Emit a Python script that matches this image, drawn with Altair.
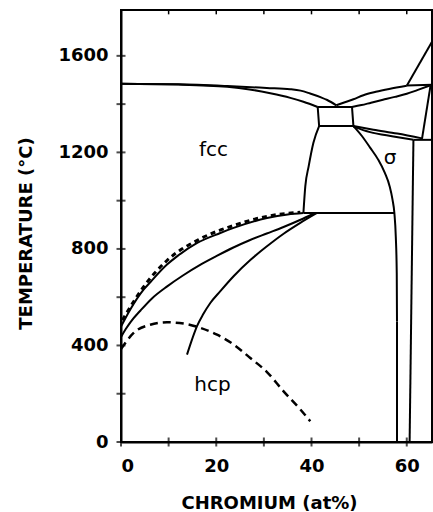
import altair as alt
import pandas as pd

# ---- smooth phase-boundary curves (x = at% Cr, T = deg C), x increasing ----
liq_left_x = [0, 12, 22.3, 30.6, 35.5, 37.7, 39.7, 42.0, 43.3, 45.2]
liq_left_t = [1484, 1482, 1475, 1467, 1462, 1456, 1444, 1428, 1417, 1395]

sol_left_x = [0, 12, 22.3, 27, 31.35, 35.55, 38.3, 41.3]
sol_left_t = [1484, 1481, 1472, 1461, 1445, 1426, 1410, 1388]

liq_right_x = [45.2, 47, 48.8, 50.9, 53.5, 56.3, 60.0]
liq_right_t = [1395, 1408, 1420, 1437, 1451, 1463, 1476]

sol_right_x = [48.5, 50.5, 52.5, 55, 57.5, 60, 62.2, 65.0]
sol_right_t = [1388, 1396, 1406, 1418, 1430, 1443, 1458, 1478]

below_box_x = [38.3, 38.7, 39.4, 40.4, 41.6]
below_box_t = [949, 1060, 1142, 1240, 1309]

lens_up_x = [48.8, 53, 58, 63.2]
lens_up_t = [1309, 1294, 1278, 1258]

lens_lo_x = [48.8, 52.3, 57.2, 61.4]
lens_lo_t = [1307, 1284, 1266, 1252]

sigma_x = [48.8, 50.5, 52.3, 54.0, 55.4, 56.4, 57.0, 57.4, 57.7, 57.9, 57.95]
sigma_t = [1309, 1270, 1220, 1170, 1115, 1060, 1005, 949, 850, 700, 500]

fcc_top_x = [0, 1.95, 4.74, 6.15, 9.66, 11.76, 16, 20.85, 23.64, 30.65, 35, 38.3]
fcc_top_t = [478, 549, 631, 662, 735, 769, 825, 866, 887, 928, 943, 949]

fcc_mid_x = [0, 1, 2, 4.1, 6.5, 9.7, 13, 16.7, 20, 23.6, 27, 30.6, 34, 37.7, 40.4]
fcc_mid_t = [435, 468, 497, 545, 595, 645, 690, 735, 770, 806, 836, 864, 890, 921, 946]

hcp_x = [13.86, 14.76, 15.96, 17.28, 18.75, 20.85, 23.64, 27.15, 30.65, 34.14, 37.65, 41.15]
hcp_t = [362, 416, 480, 530, 576, 625, 687, 754, 811, 863, 908, 949]

# ---- straight boundaries ----
top_right_x = [60.0, 65.3]
top_right_t = [1477, 1480]

bcc_liq_x = [60.0, 65.3]
bcc_liq_t = [1476, 1658]

steep_x = [65.0, 63.2]
steep_t = [1478, 1256]

box_x = [41.3, 48.5, 48.8, 41.6, 41.3]
box_t = [1388, 1388, 1309, 1309, 1388]

h1252_x = [61.4, 65.3]
h1252_t = [1252, 1252]

cr_vert_x = [61.4, 60.6]
cr_vert_t = [1252, 0]

sigma_vert_x = [57.95, 57.95]
sigma_vert_t = [500, 0]

eutectoid_x = [38.3, 57.4]
eutectoid_t = [949, 949]

# ---- dashed curves ----
dash_top_x = [0.3, 1.26, 4.74, 9.66, 16.65, 23.64, 30.65, 37.65]
dash_top_t = [505, 537, 643, 752, 842, 897, 935, 952]

dome_x = [0, 2.65, 6.15, 9.66, 13.14, 16.65, 20.16, 23.64, 27.15, 30.65, 34.14, 37.65, 39.74]
dome_t = [385, 452, 486, 496, 491, 473, 445, 404, 348, 290, 210, 135, 86]

# ---- labels ----
label_text = ["fcc", "hcp", "σ"]
label_x = [19.4, 19.2, 56.5]
label_t = [1211, 238, 1177]

x_tick_vals = [0, 10, 20, 30, 40, 50, 60]
y_tick_vals = [0, 200, 400, 600, 800, 1000, 1200, 1400, 1600]
x_label_vals = [0, 20, 40, 60]
y_label_vals = [0, 400, 800, 1200, 1600]
top_tick_vals = [10, 20, 30, 40, 50, 60]

XMAX = 65.3
YMAX = 1790

smooth = {
    "liq_left": (liq_left_x, liq_left_t),
    "sol_left": (sol_left_x, sol_left_t),
    "liq_right": (liq_right_x, liq_right_t),
    "sol_right": (sol_right_x, sol_right_t),
    "below_box": (below_box_x, below_box_t),
    "lens_up": (lens_up_x, lens_up_t),
    "lens_lo": (lens_lo_x, lens_lo_t),
    "sigma": (sigma_x, sigma_t),
    "fcc_top": (fcc_top_x, fcc_top_t),
    "fcc_mid": (fcc_mid_x, fcc_mid_t),
    "hcp": (hcp_x, hcp_t),
}
straight = {
    "top_right": (top_right_x, top_right_t),
    "bcc_liq": (bcc_liq_x, bcc_liq_t),
    "steep": (steep_x, steep_t),
    "box": (box_x, box_t),
    "h1252": (h1252_x, h1252_t),
    "cr_vert": (cr_vert_x, cr_vert_t),
    "sigma_vert": (sigma_vert_x, sigma_vert_t),
    "eutectoid": (eutectoid_x, eutectoid_t),
}
dashed_top = {"dash_top": (dash_top_x, dash_top_t)}
dashed_dome = {"dome": (dome_x, dome_t)}


def to_df(d):
    rows = []
    for name, (xs_, ts_) in d.items():
        for i, (a, b) in enumerate(zip(xs_, ts_)):
            rows.append({"curve": name, "i": i, "x": a, "t": b})
    return pd.DataFrame(rows)


xs = alt.Scale(domain=[0, XMAX], nice=False, zero=False)
ys = alt.Scale(domain=[0, YMAX], nice=False, zero=False)

FONT = "DejaVu Sans"

xaxis = alt.Axis(values=x_label_vals, format="d", ticks=False, tickSize=0, grid=False,
                 domainColor="black", domainWidth=2, labelFont=FONT, labelFontSize=18,
                 labelFontWeight="bold", labelColor="black", labelPadding=15,
                 title="CHROMIUM (at%)", titleFont=FONT, titleFontSize=18,
                 titleFontWeight="bold", titleColor="black", titlePadding=19, titleX=148)
yaxis = alt.Axis(values=y_label_vals, format="d", ticks=False, tickSize=0, grid=False,
                 domainColor="black", domainWidth=2, labelFont=FONT, labelFontSize=18,
                 labelFontWeight="bold", labelColor="black", labelPadding=13,
                 title="TEMPERATURE (°C)", titleFont=FONT, titleFontSize=18,
                 titleFontWeight="bold", titleColor="black", titleX=-86, titleY=223)

ex = alt.X("x:Q", scale=xs)
ey = alt.Y("t:Q", scale=ys)

smooth_layer = alt.Chart(to_df(smooth)).mark_line(
    color="black", strokeWidth=2, interpolate="monotone", clip=True
).encode(x=alt.X("x:Q", scale=xs, axis=xaxis), y=alt.Y("t:Q", scale=ys, axis=yaxis),
         detail="curve:N", order="i:Q")

straight_layer = alt.Chart(to_df(straight)).mark_line(
    color="black", strokeWidth=2, interpolate="linear", clip=True, strokeJoin="miter"
).encode(x=ex, y=ey, detail="curve:N", order="i:Q")

dash_top_layer = alt.Chart(to_df(dashed_top)).mark_line(
    color="black", strokeWidth=3, strokeDash=[5, 4], interpolate="monotone", clip=True
).encode(x=ex, y=ey, detail="curve:N", order="i:Q")

dome_layer = alt.Chart(to_df(dashed_dome)).mark_line(
    color="black", strokeWidth=2.5, strokeDash=[8, 5], interpolate="monotone", clip=True
).encode(x=ex, y=ey, detail="curve:N", order="i:Q")

labels_df = pd.DataFrame({"label": label_text, "x": label_x, "t": label_t})
label_layer = alt.Chart(labels_df).mark_text(
    font=FONT, fontSize=20, color="black"
).encode(x=ex, y=ey, text="label:N")

ytick_df = pd.DataFrame({"x": [0] * len(y_tick_vals), "t": y_tick_vals})
ytick_layer = alt.Chart(ytick_df).mark_tick(
    orient="horizontal", size=9, thickness=2, color="black"
).encode(x=ex, y=ey)

xtick_df = pd.DataFrame({"x": x_tick_vals, "t": [0] * len(x_tick_vals)})
xtick_layer = alt.Chart(xtick_df).mark_tick(
    orient="vertical", size=9, thickness=2, color="black"
).encode(x=ex, y=ey)

toptick_df = pd.DataFrame({"x": top_tick_vals, "t": [YMAX] * len(top_tick_vals),
                           "t2": [YMAX - 18] * len(top_tick_vals)})
toptick_layer = alt.Chart(toptick_df).mark_rule(color="black", strokeWidth=1.5).encode(
    x=ex, y=ey, y2="t2:Q")

chart = alt.layer(
    smooth_layer, straight_layer, dash_top_layer, dome_layer, label_layer,
    ytick_layer, xtick_layer, toptick_layer
).properties(
    width=311, height=432,
    autosize=alt.AutoSizeParams(type="none"),
    padding={"left": 121, "top": 10, "right": 1, "bottom": 70},
    background="white",
).configure_view(stroke="black", strokeWidth=2)

chart.save("out.html", embed_options={"renderer": "svg", "actions": False})
